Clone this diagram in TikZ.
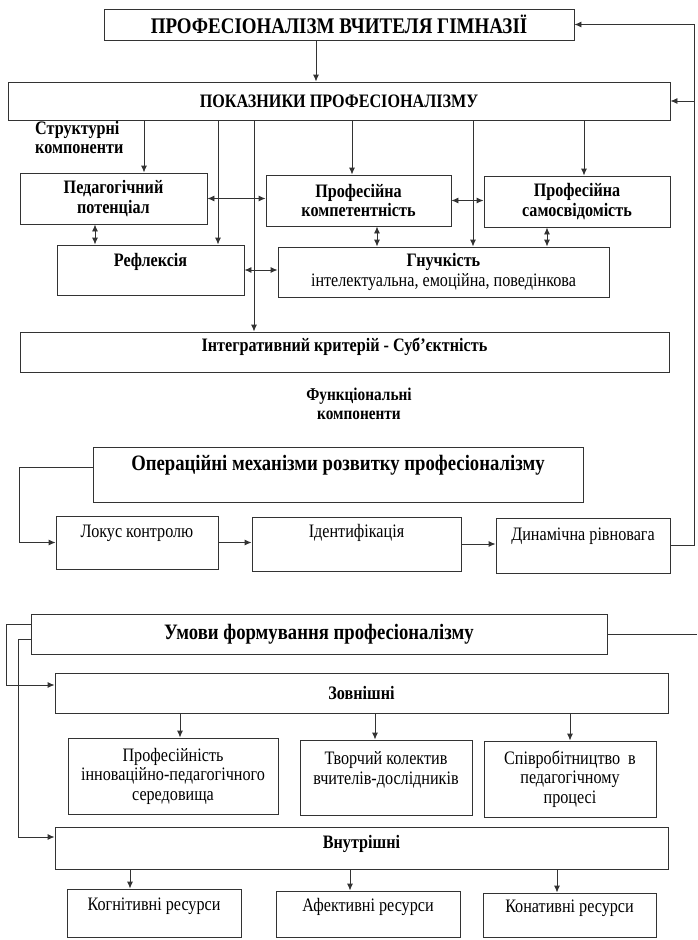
\documentclass[tikz,border=0pt]{standalone}
\usepackage{fontspec}
\setmainfont{Liberation Serif}[FakeStretch=0.85]
\usetikzlibrary{arrows.meta}
\newcommand{\boxfont}{\fontsize{19}{19.5}\selectfont}
\newcommand{\headfont}{\fontsize{22}{24}\selectfont\bfseries}

\begin{document}
\begin{tikzpicture}[x=1pt, y=-1pt, >={Latex[length=7pt,width=6pt]},
    box/.style={draw=black!80, line width=0.9pt, inner sep=2pt, align=center, font=\boxfont},
    strong/.style={font=\boxfont\bfseries},
    lift/.style={text height=13pt, text depth=#1},
    conn/.style={draw=black!80, line width=0.9pt}]
  \useasboundingbox (0,0) rectangle (697,940);

  % Nodes
  \node[box, font=\fontsize{22.3}{24}\selectfont\bfseries, minimum width=470pt, minimum height=31pt] (title) at (339,24.5) {ПРОФЕСІОНАЛІЗМ ВЧИТЕЛЯ ГІМНАЗІЇ};
  \node[box, strong, minimum width=662pt, minimum height=38pt] (pokaz) at (339,101) {ПОКАЗНИКИ ПРОФЕСІОНАЛІЗМУ};
  \node[strong, align=left, anchor=west, inner sep=0pt] (struct) at (35,137.5) {Структурні\\компоненти};

  \node[box, strong, minimum width=187pt, minimum height=51pt] (ped) at (113.5,198.5) {Педагогічний\\потенціал};
  \node[box, strong, minimum width=185pt, minimum height=51pt] (komp) at (358.5,200.5) {Професійна\\компетентність};
  \node[box, strong, minimum width=186pt, minimum height=51pt] (samo) at (577,201.5) {Професійна\\самосвідомість};
  \node[box, strong, lift=20pt, minimum width=187pt, minimum height=50pt] (refl) at (150.5,270) {Рефлексія};
  \node[box, minimum width=331pt, minimum height=50pt] (hnuch) at (443.5,272) {\textbf{Гнучкість}\\інтелектуальна, емоційна, поведінкова};
  \node[box, strong, lift=14pt, minimum width=649pt, minimum height=40pt] (integr) at (344.5,352) {Інтегративний критерій - Суб’єктність};
  \node[font=\fontsize{18}{19.5}\selectfont\bfseries, align=center, inner sep=0pt] (funk) at (359,404) {Функціональні\\компоненти};

  \node[box, font=\headfont, text height=15pt, text depth=23pt, minimum width=490pt, minimum height=55pt] (oper) at (338,474.5) {Операційні механізми розвитку професіоналізму};
  \node[box, lift=24pt, minimum width=162pt, minimum height=53pt] (lokus) at (137,542.5) {Локус контролю};
  \node[box, lift=26pt, minimum width=209pt, minimum height=54pt] (ident) at (356.5,544) {Ідентифікація};
  \node[box, lift=24pt, minimum width=174pt, minimum height=55pt] (dyn) at (583,545.5) {Динамічна рівновага};

  \node[box, font=\headfont, minimum width=576pt, minimum height=40pt] (umovy) at (319,634) {Умови формування професіоналізму};
  \node[box, strong, minimum width=613pt, minimum height=40pt] (zovn) at (361.5,693) {Зовнішні};
  \node[box, minimum width=210pt, minimum height=76pt] (prof) at (173,776) {Професійність\\інноваційно-педагогічного\\середовища};
  \node[box, minimum width=172pt, minimum height=75pt] (tvor) at (386,777.5) {Творчий колектив\\вчителів-дослідників\\~};
  \node[box, minimum width=172pt, minimum height=76pt] (spiv) at (570,779) {Співробітництво~ в\\педагогічному\\процесі};
  \node[box, strong, lift=12pt, minimum width=613pt, minimum height=42pt] (vnutr) at (361.5,848) {Внутрішні};
  \node[box, lift=18pt, minimum width=174pt, minimum height=48pt] (kogn) at (154,913) {Когнітивні ресурси};
  \node[box, lift=18pt, minimum width=184pt, minimum height=46pt] (afek) at (368,914) {Афективні ресурси};
  \node[box, lift=18pt, minimum width=173pt, minimum height=44pt] (konat) at (569.5,915) {Конативні ресурси};

  % Arrows
  \draw[conn, ->] ([xshift=-23pt]title.south) -- ([xshift=-23pt]title.south |- pokaz.north);
  \draw[conn, ->] ([xshift=30.5pt]ped.north |- pokaz.south) -- ([xshift=30.5pt]ped.north);
  \draw[conn, ->] ([xshift=67.5pt]refl.north |- pokaz.south) -- ([xshift=67.5pt]refl.north);
  \draw[conn, ->] ([xshift=-90.5pt]integr.north |- pokaz.south) -- ([xshift=-90.5pt]integr.north);
  \draw[conn, ->] ([xshift=-6.5pt]komp.north |- pokaz.south) -- ([xshift=-6.5pt]komp.north);
  \draw[conn, ->] ([xshift=29.5pt]hnuch.north |- pokaz.south) -- ([xshift=29.5pt]hnuch.north);
  \draw[conn, ->] ([xshift=7pt]samo.north |- pokaz.south) -- ([xshift=7pt]samo.north);

  \draw[conn, <->] (ped.east) -- (ped.east -| komp.west);
  \draw[conn, <->] (komp.east) -- (komp.east -| samo.west);
  \draw[conn, <->] ([xshift=-18.5pt]ped.south) -- ([xshift=-18.5pt]ped.south |- refl.north);
  \draw[conn, <->] ([xshift=18.5pt]komp.south) -- ([xshift=18.5pt]komp.south |- hnuch.north);
  \draw[conn, <->] ([xshift=-30pt]samo.south) -- ([xshift=-30pt]samo.south |- hnuch.north);
  \draw[conn, <->] (refl.east) -- (refl.east -| hnuch.west);

  % Mechanisms
  \draw[conn, ->] ([yshift=7.5pt]oper.west) -- ++(-73pt,0) |- (lokus.west);
  \draw[conn, ->] (lokus.east) -- (lokus.east -| ident.west);
  \draw[conn, ->] (ident.east) -- (ident.east -| dyn.west);
  \draw[conn, ->] (dyn.east) -- ++(24pt,0) coordinate (back) |- (title.east);
  \draw[conn, ->] (back |- pokaz.east) -- (pokaz.east);

  % Conditions
  \coordinate (rim) at (697,634);
  \draw[conn] (umovy.east) -- (rim);
  \draw[conn, ->] ([yshift=10pt]umovy.west) -- ++(-24pt,0) |- ([yshift=8pt]zovn.west);
  \draw[conn, ->] ([yshift=-5pt]umovy.west) -- ++(-12pt,0) |- ([yshift=11pt]vnutr.west);
  \draw[conn, ->] ([xshift=7pt]prof.north |- zovn.south) -- ([xshift=7pt]prof.north);
  \draw[conn, ->] ([xshift=-11pt]tvor.north |- zovn.south) -- ([xshift=-11pt]tvor.north);
  \draw[conn, ->] (spiv.north |- zovn.south) -- (spiv.north);
  \draw[conn, ->] ([xshift=-24pt]kogn.north |- vnutr.south) -- ([xshift=-24pt]kogn.north);
  \draw[conn, ->] ([xshift=-18pt]afek.north |- vnutr.south) -- ([xshift=-18pt]afek.north);
  \draw[conn, ->] ([xshift=-12.5pt]konat.north |- vnutr.south) -- ([xshift=-12.5pt]konat.north);
\end{tikzpicture}
\end{document}
